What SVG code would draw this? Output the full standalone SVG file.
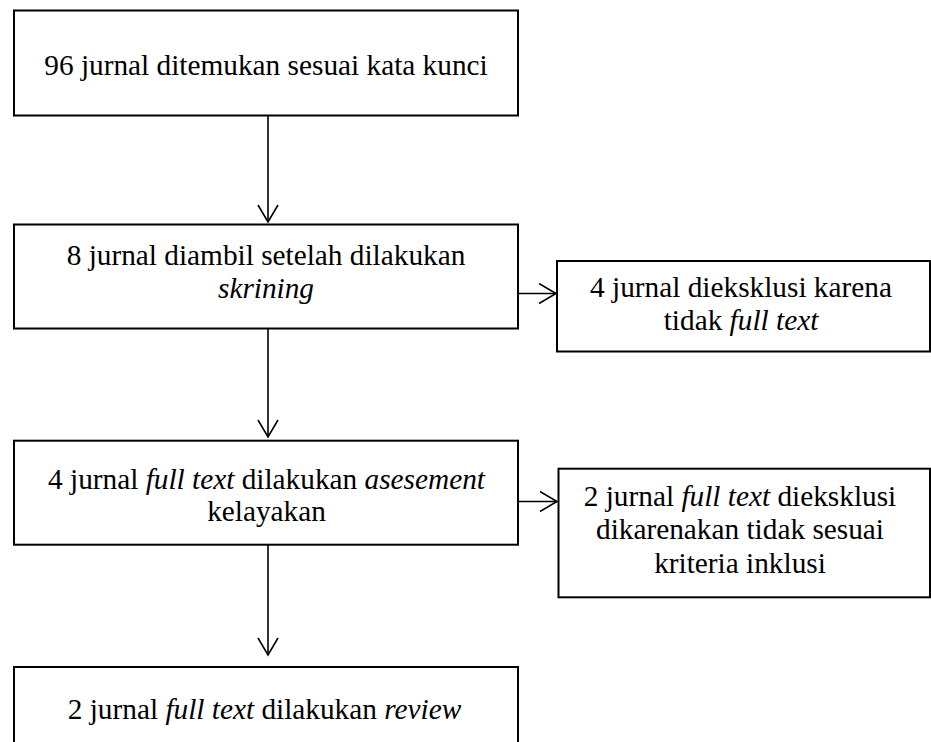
<svg xmlns="http://www.w3.org/2000/svg" width="931" height="742" viewBox="0 0 931 742">
<defs>
<marker id="arr" markerUnits="userSpaceOnUse" viewBox="0 0 20 22" markerWidth="20" markerHeight="22" refX="18" refY="11" orient="auto">
<path d="M1,1 L18,11 L1,21" fill="none" stroke="#000" stroke-width="1.6"/>
</marker>
</defs>
<g id="connectors" fill="none" stroke="#000" stroke-width="1.6">
<line x1="268" y1="116" x2="268" y2="222" marker-end="url(#arr)"/>
<line x1="268" y1="329" x2="268" y2="437" marker-end="url(#arr)"/>
<line x1="268" y1="545" x2="268" y2="655" marker-end="url(#arr)"/>
<line x1="518" y1="293.5" x2="556" y2="293.5" marker-end="url(#arr)"/>
<line x1="518" y1="501.5" x2="557" y2="501.5" marker-end="url(#arr)"/>
</g>
<g id="n1">
<rect x="14" y="10.5" width="504" height="105" fill="#fff" stroke="#000" stroke-width="2"/>
<text x="266" y="75" font-family="Liberation Serif, serif" font-size="29.3" text-anchor="middle">96 jurnal ditemukan sesuai kata kunci</text>
</g>
<g id="n2">
<rect x="14" y="224.5" width="504" height="104" fill="#fff" stroke="#000" stroke-width="2"/>
<text x="266" y="264.5" font-family="Liberation Serif, serif" font-size="29.3" text-anchor="middle">8 jurnal diambil setelah dilakukan</text>
<text x="266" y="297.5" font-family="Liberation Serif, serif" font-size="29.3" font-style="italic" text-anchor="middle">skrining</text>
</g>
<g id="n3">
<rect x="557" y="261" width="373" height="90.5" fill="#fff" stroke="#000" stroke-width="2"/>
<text x="741" y="297" font-family="Liberation Serif, serif" font-size="29.3" text-anchor="middle">4 jurnal dieksklusi karena</text>
<text x="741" y="329.5" font-family="Liberation Serif, serif" font-size="29.3" text-anchor="middle">tidak <tspan font-style="italic">full text</tspan></text>
</g>
<g id="n4">
<rect x="14" y="440.7" width="504" height="104" fill="#fff" stroke="#000" stroke-width="2"/>
<text x="266.5" y="489" font-family="Liberation Serif, serif" font-size="29.3" text-anchor="middle">4 jurnal <tspan font-style="italic">full text</tspan> dilakukan <tspan font-style="italic">asesement</tspan></text>
<text x="266.5" y="521" font-family="Liberation Serif, serif" font-size="29.3" text-anchor="middle">kelayakan</text>
</g>
<g id="n5">
<rect x="558.5" y="468.7" width="371.5" height="128.6" fill="#fff" stroke="#000" stroke-width="2"/>
<text x="740" y="505.5" font-family="Liberation Serif, serif" font-size="29.3" text-anchor="middle">2 jurnal <tspan font-style="italic">full text</tspan> dieksklusi</text>
<text x="740" y="539" font-family="Liberation Serif, serif" font-size="29.3" text-anchor="middle">dikarenakan tidak sesuai</text>
<text x="740" y="572.5" font-family="Liberation Serif, serif" font-size="29.3" text-anchor="middle">kriteria inklusi</text>
</g>
<g id="n6">
<rect x="14" y="667" width="504" height="90" fill="#fff" stroke="#000" stroke-width="2"/>
<text x="264.5" y="719" font-family="Liberation Serif, serif" font-size="29.3" text-anchor="middle">2 jurnal <tspan font-style="italic">full text</tspan> dilakukan <tspan font-style="italic">review</tspan></text>
</g>
</svg>
